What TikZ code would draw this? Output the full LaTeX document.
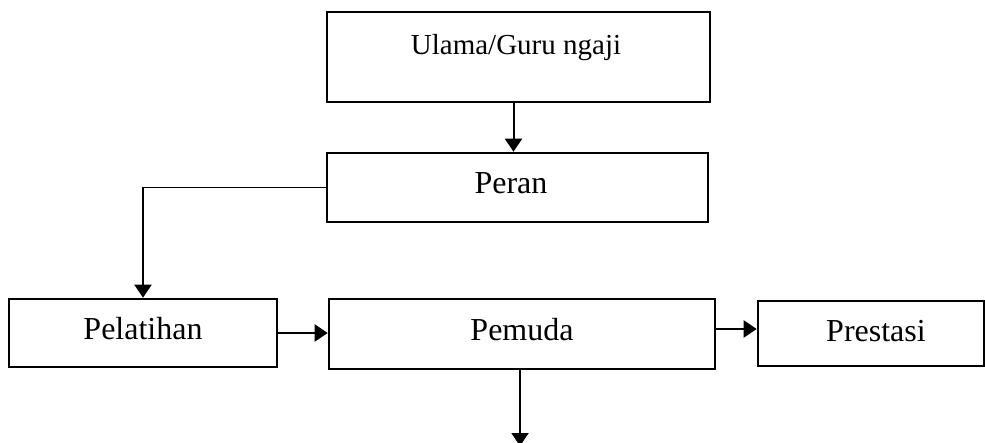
\documentclass[tikz,border=0pt]{standalone}
\usepackage{fontspec}
\setmainfont{Liberation Serif}
\usetikzlibrary{arrows.meta,calc}
\begin{document}
\begin{tikzpicture}[x=1pt,y=-1pt,
  box/.style={draw=black,line width=2.6pt,inner sep=0pt,anchor=center},
  lbl/.style={inner sep=0pt,anchor=center,font=\fontsize{32}{36}\selectfont},
  arr/.style={line width=2pt,-{Triangle[length=13pt,width=17pt]}}]
\useasboundingbox (0,0) rectangle (985,443);
\clip (0,0) rectangle (985,443);
\node[box,minimum width=383pt,minimum height=90pt] (ulama) at (518.5,57) {};
\node[inner sep=0pt,font=\fontsize{29}{34}\selectfont] (ulamatext) at (516,48) {Ulama/Guru ngaji};
\node[box,minimum width=381pt,minimum height=69pt] (peran) at (517.5,187.5) {};
\node[lbl] (perantext) at (511,183.5) {Peran};
\node[box,minimum width=268pt,minimum height=68pt] (pelatihan) at (143,333) {};
\node[lbl] (pelatihantext) at (143,329) {Pelatihan};
\node[box,minimum width=386pt,minimum height=70pt] (pemuda) at (522,334) {};
\node[lbl] (pemudatext) at (522,330) {Pemuda};
\node[box,minimum width=226pt,minimum height=65pt] (prestasi) at (871,333.5) {};
\node[lbl] (prestasitext) at (876,331) {Prestasi};
\coordinate (corner) at (pelatihan.north |- peran.west);
\coordinate (bottomend) at (520,446);
\draw[arr] ($(ulama.south)+(-5,0)$) -- ($(ulama.south |- peran.north)+(-5,0)$);
\draw[line width=1pt] (peran.west) -- (corner);
\draw[arr] (corner) -- (pelatihan.north);
\draw[arr] (pelatihan.east) -- (pelatihan.east -| pemuda.west);
\draw[arr] ($(pemuda.east)+(0,-5)$) -- ($(pemuda.east -| prestasi.west)+(0,-5)$);
\draw[arr] (pemuda.south -| bottomend) -- (bottomend);
\end{tikzpicture}
\end{document}
